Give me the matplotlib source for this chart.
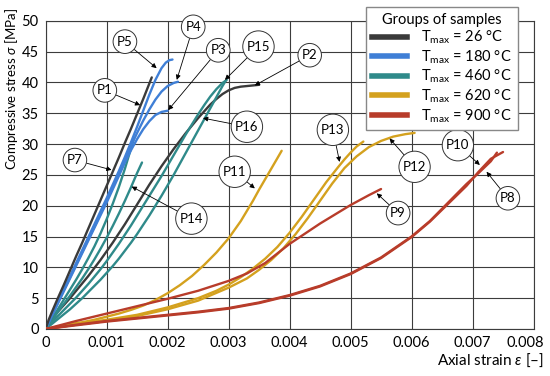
import matplotlib
matplotlib.use('Agg')
import matplotlib.pyplot as plt
import matplotlib.transforms as mtransforms
from matplotlib.lines import Line2D

plt.rcParams['font.family'] = ['Lato', 'DejaVu Sans']
plt.rcParams['mathtext.fontset'] = 'custom'
plt.rcParams['mathtext.rm'] = 'Lato'
plt.rcParams['mathtext.it'] = 'Lato:italic'

# colours of the five groups
c26 = '#3a3a3a'
c180 = '#3f7fd6'
c460 = '#2f8a8a'
c620 = '#d4a11e'
c900 = '#b83c2a'

group_labels = ['26', '180', '460', '620', '900']
group_colors = [c26, c180, c460, c620, c900]

# curves: strain [-], stress [MPa]
p1_x = [0, 0.00005, 0.0001, 0.0002, 0.0003, 0.0004, 0.0005, 0.0006, 0.0007, 0.0008, 0.0009,
        0.001, 0.0011, 0.0012, 0.0013, 0.0014, 0.0015, 0.0016, 0.0017, 0.00174]
p1_y = [0, 1.5, 2.7, 5, 7.2, 9.5, 11.8, 14, 16.3, 18.6, 20.9,
        23.2, 25.5, 27.8, 30.2, 32.5, 34.9, 37.3, 39.8, 40.8]
p2_x = [0, 0.0001, 0.0002, 0.0003, 0.0004, 0.0005, 0.0006, 0.0007, 0.0008, 0.0009, 0.001,
        0.0011, 0.0012, 0.0013, 0.0014, 0.0015, 0.0016, 0.0017, 0.0018, 0.0019, 0.002,
        0.0021, 0.0022, 0.0023, 0.0024, 0.0025, 0.0026, 0.0027, 0.0028, 0.0029, 0.003,
        0.0031, 0.0032, 0.0033, 0.0034, 0.0035]
p2_y = [0, 1.5, 2.8, 3.9, 5, 6.2, 7.4, 8.6, 9.9, 11.2, 12.6,
        14, 15.5, 17, 18.6, 20.2, 21.8, 23.4, 24.9, 26.4, 27.8,
        29.2, 30.5, 31.8, 33, 34.2, 35.3, 36.4, 37.3, 38.1, 38.7,
        39.1, 39.3, 39.4, 39.5, 39.6]

p3_x = [0, 0.0001, 0.0002, 0.0004, 0.0006, 0.0008, 0.001, 0.0012, 0.0013, 0.0014, 0.0015,
        0.0016, 0.0017, 0.0018, 0.0019, 0.002]
p3_y = [0, 2.1, 4.1, 8.2, 12.3, 16.4, 20.5, 24.8, 27, 29, 30.8,
        32.4, 33.7, 34.7, 35.2, 35.4]
p4_x = [0, 0.0001, 0.0002, 0.0004, 0.0006, 0.0008, 0.001, 0.0012, 0.0013, 0.0014, 0.0015,
        0.0016, 0.0017, 0.0018, 0.0019, 0.002, 0.0021, 0.00217]
p4_y = [0, 2.2, 4.3, 8.4, 12.5, 16.6, 20.8, 25.2, 27.5, 29.7, 31.8,
        33.8, 35.6, 37.2, 38.5, 39.4, 39.9, 40.1]
p5_x = [0, 0.0001, 0.0002, 0.0003, 0.0004, 0.0005, 0.0006, 0.0007, 0.0008, 0.0009, 0.001,
        0.0011, 0.0012, 0.0013, 0.0014, 0.0015, 0.0016, 0.0017, 0.0018, 0.0019, 0.00197,
        0.00203, 0.00208]
p5_y = [0, 2.3, 4.4, 6.5, 8.6, 10.7, 12.8, 14.9, 17, 19.1, 21.2,
        23.4, 25.6, 27.9, 30.3, 32.8, 35.4, 38, 40.4, 42.3, 43.2,
        43.6, 43.7]

p7_x = [0, 0.0001, 0.0002, 0.0003, 0.0004, 0.0005, 0.0006, 0.0007, 0.0008, 0.0009, 0.001,
        0.0011, 0.0012, 0.0013, 0.0014, 0.00145]
p7_y = [0, 1.6, 3.2, 4.8, 6.4, 8, 9.7, 11.5, 13.4, 15.5, 17.8,
        20.3, 23, 26, 29.3, 31]
p14_x = [0, 0.0001, 0.0002, 0.0003, 0.0004, 0.0005, 0.0006, 0.0007, 0.0008, 0.0009, 0.001,
         0.0011, 0.0012, 0.0013, 0.0014, 0.0015, 0.00158]
p14_y = [0, 1.4, 2.8, 4.1, 5.4, 6.8, 8.2, 9.7, 11.3, 13, 14.8,
         16.7, 18.7, 20.8, 23, 25.3, 27]
p15_x = [0, 0.0001, 0.0002, 0.0003, 0.0004, 0.0005, 0.0006, 0.0007, 0.0008, 0.0009, 0.001,
         0.0011, 0.0012, 0.0013, 0.0014, 0.0015, 0.0016, 0.0017, 0.0018, 0.0019, 0.002,
         0.0021, 0.0022, 0.0023, 0.0024, 0.0025, 0.0026, 0.0027, 0.0028, 0.0029, 0.00297]
p15_y = [0, 1.1, 2.1, 3.1, 4.1, 5.1, 6.2, 7.3, 8.5, 9.7, 11,
         12.4, 13.8, 15.3, 16.8, 18.4, 20, 21.6, 23.2, 24.8, 26.5,
         28.2, 29.9, 31.6, 33.2, 34.8, 36.3, 37.7, 38.9, 39.9, 40.4]
p16_x = [0, 0.0001, 0.0002, 0.0003, 0.0004, 0.0005, 0.0006, 0.0007, 0.0008, 0.0009, 0.001,
         0.0011, 0.0012, 0.0013, 0.0014, 0.0015, 0.0016, 0.0017, 0.0018, 0.0019, 0.002,
         0.0021, 0.0022, 0.0023, 0.0024, 0.0025, 0.0026, 0.0027, 0.0028, 0.0029, 0.00295]
p16_y = [0, 0.8, 1.6, 2.4, 3.2, 4.1, 5, 6, 7, 8, 9.1,
         10.2, 11.4, 12.7, 14, 15.4, 16.9, 18.4, 20, 21.6, 23.3,
         25, 26.8, 28.6, 30.4, 32.2, 34, 35.8, 37.6, 39.4, 40.2]

p11_x = [0, 0.0002, 0.0004, 0.0006, 0.0008, 0.001, 0.0012, 0.0014, 0.0016, 0.0018, 0.002,
         0.0022, 0.0024, 0.0026, 0.0028, 0.003, 0.0032, 0.0034, 0.0035, 0.0036, 0.0037,
         0.0038, 0.00387]
p11_y = [0, 0.4, 0.8, 1.1, 1.5, 2, 2.5, 3.1, 3.8, 4.7, 5.8,
         7.1, 8.6, 10.4, 12.4, 14.7, 17.5, 20.8, 22.6, 24.3, 26,
         27.7, 28.9]
p12_x = [0, 0.0005, 0.001, 0.0015, 0.002, 0.0025, 0.003, 0.0033, 0.0035, 0.0037, 0.0039,
         0.0041, 0.0043, 0.0045, 0.0047, 0.0049, 0.0051, 0.0053, 0.0055, 0.0057, 0.0059,
         0.00605]
p12_y = [0, 0.7, 1.3, 2.1, 3.2, 4.6, 6.7, 8.2, 9.6, 11.2, 13.1,
         15.4, 18, 20.8, 23.6, 26.1, 28, 29.5, 30.5, 31.2, 31.6,
         31.8]
p13_x = [0, 0.0005, 0.001, 0.0015, 0.002, 0.0025, 0.0028, 0.003, 0.0032, 0.0034, 0.0036,
         0.0038, 0.004, 0.0042, 0.0044, 0.0046, 0.0048, 0.0049, 0.005, 0.0051, 0.00521]
p13_y = [0, 0.8, 1.5, 2.3, 3.5, 5, 6.2, 7.2, 8.4, 9.8, 11.4,
         13.3, 15.6, 18.2, 21, 23.8, 26.3, 27.5, 28.6, 29.6, 30.4]

p8_x = [0, 0.0005, 0.001, 0.0015, 0.002, 0.0025, 0.003, 0.0035, 0.004, 0.0045, 0.005,
        0.0055, 0.006, 0.0063, 0.0066, 0.0069, 0.0071, 0.0073, 0.0074]
p8_y = [0, 0.7, 1.3, 1.8, 2.3, 2.8, 3.4, 4.3, 5.5, 7, 9,
        11.6, 15, 17.5, 20.5, 23.5, 25.3, 27.2, 28.6]
p9_x = [0, 0.0005, 0.001, 0.0015, 0.002, 0.0025, 0.003, 0.0033, 0.0036, 0.004, 0.0045,
        0.005, 0.0053, 0.0055]
p9_y = [0, 1.3, 2.5, 3.7, 4.9, 6.2, 7.8, 9, 10.7, 13.8, 17.1,
        20.1, 21.7, 22.7]
p10_x = [0, 0.0005, 0.001, 0.0015, 0.002, 0.0025, 0.003, 0.0035, 0.004, 0.0045, 0.005,
         0.0055, 0.006, 0.0063, 0.0066, 0.0069, 0.0071, 0.0073, 0.0075]
p10_y = [0, 0.6, 1.2, 1.7, 2.2, 2.7, 3.3, 4.2, 5.4, 6.9, 8.9,
         11.5, 14.9, 17.4, 20.3, 23.2, 25.5, 27.6, 28.7]

curves = [
    (p2_x, p2_y, c26), (p16_x, p16_y, c460), (p15_x, p15_y, c460),
    (p14_x, p14_y, c460), (p7_x, p7_y, c460),
    (p3_x, p3_y, c180), (p4_x, p4_y, c180), (p5_x, p5_y, c180),
    (p1_x, p1_y, c26),
    (p11_x, p11_y, c620), (p12_x, p12_y, c620), (p13_x, p13_y, c620),
    (p9_x, p9_y, c900), (p8_x, p8_y, c900), (p10_x, p10_y, c900),
]

# label, circle position, arrow tip
labels = ['P1', 'P2', 'P3', 'P4', 'P5', 'P7', 'P8', 'P9', 'P10',
          'P11', 'P12', 'P13', 'P14', 'P15', 'P16']
label_xy = [(0.00097, 38.7), (0.00433, 44.4), (0.00283, 45.2), (0.00242, 49.0),
            (0.0013, 46.6), (0.00048, 27.4), (0.00758, 21.2), (0.00578, 18.8),
            (0.00676, 29.8), (0.0031, 25.5), (0.00605, 26.3), (0.00471, 32.3),
            (0.00239, 17.9), (0.00349, 45.8), (0.0033, 32.8)]
tip_xy = [(0.00155, 36.3), (0.00343, 39.5), (0.00201, 35.5), (0.00215, 40.4),
          (0.00182, 42.3), (0.00108, 25.8), (0.00723, 25.5), (0.00543, 22.0),
          (0.00712, 26.6), (0.00343, 22.8), (0.00564, 30.9), (0.00482, 27.1),
          (0.00141, 23.1), (0.00294, 40.4), (0.00258, 34.2)]

x_ticks = [0, 0.001, 0.002, 0.003, 0.004, 0.005, 0.006, 0.007, 0.008]
x_tick_labels = ['0', '0.001', '0.002', '0.003', '0.004', '0.005', '0.006', '0.007', '0.008']
y_ticks = [0, 5, 10, 15, 20, 25, 30, 35, 40, 45, 50]

fig = plt.figure(figsize=(5.5, 3.76), dpi=100)
ax = fig.add_axes([0.083, 0.125, 0.887, 0.82])

for xs, ys, col in curves:
    ax.plot(xs, ys, color=col, lw=1.7, solid_capstyle='round', solid_joinstyle='round', zorder=3)

ax.set_xlim(0, 0.008)
ax.set_ylim(0, 50)
ax.set_xticks(x_ticks)
ax.set_xticklabels(x_tick_labels)
ax.set_yticks(y_ticks)
ax.tick_params(length=0, labelsize=10.5, pad=5)
ax.grid(True, color='#3c3c3c', lw=0.8)
ax.set_axisbelow(True)
for s in ax.spines.values():
    s.set_color('#3c3c3c')
    s.set_linewidth(0.8)

# keep the last x tick label inside the figure
last = ax.get_xticklabels()[-1]
last.set_transform(last.get_transform() +
                   mtransforms.ScaledTranslation(-6 / 72, 0, fig.dpi_scale_trans))

ax.set_ylabel(r'Compressive stress $\it{\sigma}$ [MPa]', fontsize=9.5, loc='top')
ax.yaxis.set_label_coords(-0.052, 1.04)
ax.set_xlabel(r'Axial strain $\it{\varepsilon}$ [–]', fontsize=11, loc='right')
ax.xaxis.set_label_coords(1.022, -0.075)

for lab, pos, tip in zip(labels, label_xy, tip_xy):
    ax.annotate(lab, xy=tip, xytext=pos, ha='center', va='center', fontsize=9.5,
                bbox=dict(boxstyle='circle,pad=0.3', fc='white', ec='#333333', lw=0.7),
                arrowprops=dict(arrowstyle='-|>', color='black', lw=0.6,
                                mutation_scale=7, shrinkA=0, shrinkB=0),
                zorder=5)

handles = [Line2D([], [], color=c, lw=4) for c in group_colors]
texts = [r'T$_{\mathrm{max}}$ = ' + t + ' °C' for t in group_labels]
leg = ax.legend(handles, texts, title='Groups of samples', loc='upper right',
                bbox_to_anchor=(0.968, 1.045), borderaxespad=0, fontsize=10.5,
                title_fontsize=10.5, handlelength=2.4, handletextpad=1.0,
                labelspacing=0.15, fancybox=False, framealpha=1, edgecolor='#888888')
leg.get_frame().set_linewidth(1.0)
leg.set_zorder(6)

fig.savefig('out.png', dpi=100)
